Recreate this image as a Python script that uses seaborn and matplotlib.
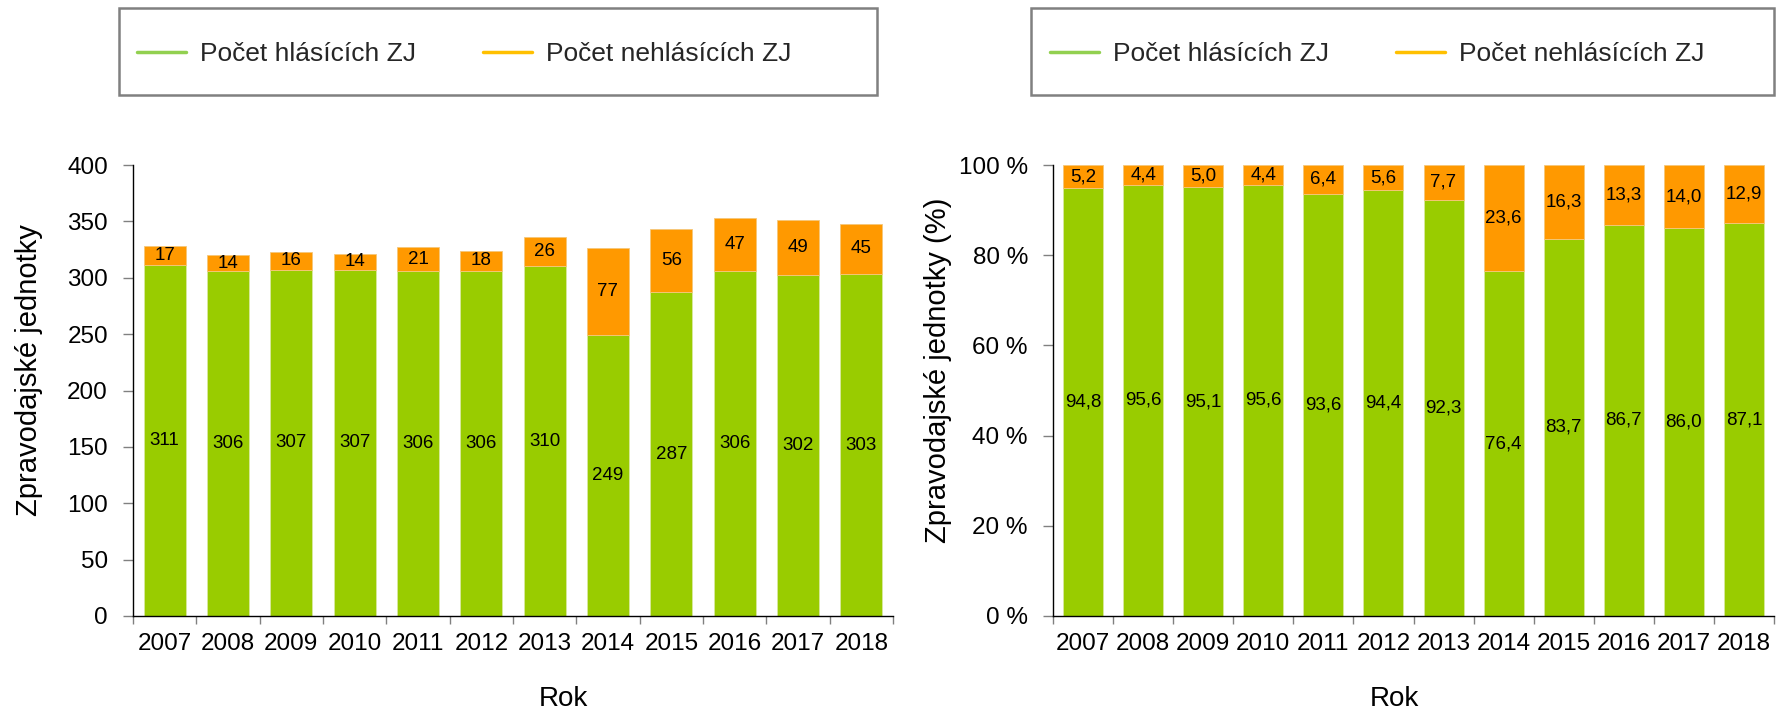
import matplotlib
matplotlib.use("Agg")
import matplotlib.pyplot as plt
import seaborn as sns
from matplotlib.lines import Line2D
from matplotlib.patches import Rectangle

# ---- data ----
years = [str(y) for y in range(2007, 2019)]
reporting = [311, 306, 307, 307, 306, 306, 310, 249, 287, 306, 302, 303]
non_reporting = [17, 14, 16, 14, 21, 18, 26, 77, 56, 47, 49, 45]
reporting_pct = [94.8, 95.6, 95.1, 95.6, 93.6, 94.4, 92.3, 76.4, 83.7, 86.7, 86.0, 87.1]
non_reporting_pct = [5.2, 4.4, 5.0, 4.4, 6.4, 5.6, 7.7, 23.6, 16.3, 13.3, 14.0, 12.9]
series_names = ["Počet hlásících ZJ", "Počet nehlásících ZJ"]
y_ticks_abs = list(range(0, 401, 50))
y_ticks_pct = list(range(0, 101, 20))
x_title = "Rok"
y_title_abs = "Zpravodajské jednotky"
y_title_pct = "Zpravodajské jednotky (%)"

GREEN = "#99CC00"
ORANGE = "#FF9900"
LEG_GREEN = "#92D050"
LEG_ORANGE = "#FFC000"

sns.set_style("ticks")
plt.rcParams["font.family"] = ["Liberation Sans", "DejaVu Sans"]

W, H = 1781, 716
fig = plt.figure(figsize=(W / 100, H / 100), dpi=100)


def fx(px):
    return px / W


def fy(py):
    return 1 - py / H


ax1 = fig.add_axes([fx(133), fy(616), fx(893) - fx(133), fy(165) - fy(616)])
ax2 = fig.add_axes([fx(1053), fy(616), fx(1774) - fx(1053), fy(165) - fy(616)])


def draw(ax, low, high, fmt, ticks, tickfmt, ylabel, ylabel_x, xlabel_x):
    sns.barplot(x=years, y=low, color=GREEN, saturation=1, width=0.665, ax=ax,
                edgecolor="#D9E8A0", linewidth=0.6)
    sns.barplot(x=years, y=high, bottom=low, color=ORANGE, saturation=1, width=0.665,
                ax=ax, edgecolor="#F5C77A", linewidth=0.6)
    for cont, vals in zip(ax.containers, [low, high]):
        ax.bar_label(cont, labels=[fmt(v) for v in vals], label_type="center",
                     fontsize=13.5, color="black")
    ax.set_xlim(-0.5, len(years) - 0.5)
    ax.set_xticks(range(len(years)))
    ax.set_xticklabels(years)
    ax.set_xticks([i - 0.5 for i in range(len(years) + 1)], minor=True)
    ax.tick_params(axis="x", which="major", length=0, pad=12, labelsize=17.5, colors="black")
    ax.tick_params(axis="x", which="minor", length=6, width=1, color="#808080", direction="out")
    ax.set_ylim(ticks[0], ticks[-1])
    ax.set_yticks(ticks)
    ax.set_yticklabels([tickfmt(t) for t in ticks])
    ax.tick_params(axis="y", which="major", length=7, width=1, color="#808080", pad=11,
                   labelsize=17.5, labelcolor="black", direction="out")
    sns.despine(ax=ax)
    for s in ("left", "bottom"):
        ax.spines[s].set_color("black")
        ax.spines[s].set_linewidth(1)
    ax.set_ylabel(ylabel, fontsize=21, color="black")
    ax.yaxis.set_label_coords(ylabel_x, 0.545)
    ax.set_xlabel(x_title, fontsize=20, color="black")
    ax.xaxis.set_label_coords(xlabel_x, -0.155)


draw(ax1, reporting, non_reporting, lambda v: f"{v:d}", y_ticks_abs,
     lambda t: f"{t}", y_title_abs, -0.118, 0.567)
draw(ax2, reporting_pct, non_reporting_pct, lambda v: f"{v:.1f}".replace(".", ","),
     y_ticks_pct, lambda t: f"{t} %", y_title_pct, -0.140, 0.473)

handles = [Line2D([], [], color=LEG_GREEN, lw=2.5), Line2D([], [], color=LEG_ORANGE, lw=2.5)]
for frame_l, frame_r, line_x in [(119, 877, 137), (1031, 1774, 1050)]:
    fig.legend(handles, series_names, loc="center left",
               bbox_to_anchor=(fx(line_x), fy(54)), bbox_transform=fig.transFigure,
               ncol=2, frameon=False, fontsize=19, handlelength=1.86,
               handletextpad=0.53, columnspacing=2.54, borderpad=0, borderaxespad=0)
    fig.patches.append(Rectangle((fx(frame_l), fy(95)), fx(frame_r) - fx(frame_l),
                                 fy(8) - fy(95), transform=fig.transFigure, fill=False,
                                 edgecolor="#808080", lw=1.8))

fig.savefig("out.png", dpi=100)
